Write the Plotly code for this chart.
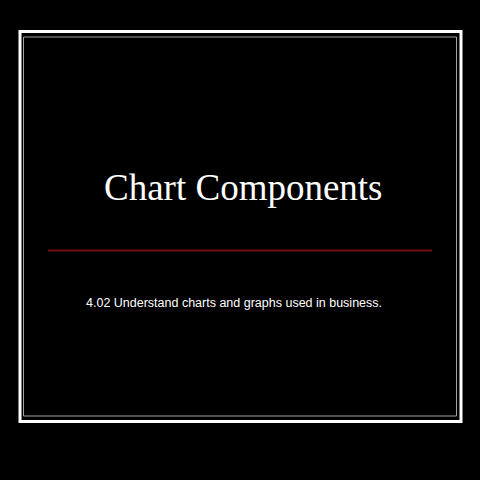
import plotly.graph_objects as go

# slide texts
title_text = "Chart Components"
subtitle_text = "4.02 Understand charts and graphs used in business."

fig = go.Figure()

# page coordinates: 0..480 both ways, y pointing down
fig.update_xaxes(range=[0, 480], visible=False, fixedrange=True)
fig.update_yaxes(range=[480, 0], visible=False, fixedrange=True)

# double frame
fig.add_shape(type="rect", x0=20, x1=461, y0=31.5, y1=421.5,
              line=dict(color="white", width=3))
fig.add_shape(type="rect", x0=23.5, x1=456.5, y0=37, y1=416,
              line=dict(color="#a0a0a0", width=1))

# dark red rule under the title
fig.add_shape(type="line", x0=48, x1=432, y0=250.5, y1=250.5,
              line=dict(color="#6e1010", width=2))

fig.add_annotation(x=243, y=187, text=title_text, showarrow=False,
                   xanchor="center", yanchor="middle",
                   font=dict(family="Liberation Serif", size=37, color="white"))
fig.add_annotation(x=84, y=303, text=subtitle_text, showarrow=False,
                   xanchor="left", yanchor="middle",
                   font=dict(family="Liberation Sans", size=12.5, color="white"))

fig.update_layout(
    width=480, height=480,
    margin=dict(l=0, r=0, t=0, b=0),
    paper_bgcolor="black",
    plot_bgcolor="black",
    showlegend=False,
)

# drop the page's default body margin so the slide fills the window
fig.write_html("out.html", config={"displayModeBar": False},
               post_script="document.body.style.margin='0';"
                           "document.body.style.background='black';"
                           "document.body.style.overflow='hidden';")
